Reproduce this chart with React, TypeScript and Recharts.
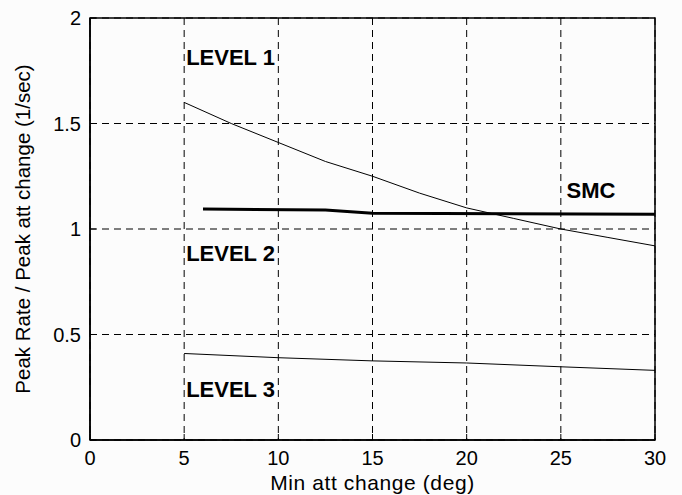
import { LineChart, Line, XAxis, YAxis, CartesianGrid, ReferenceArea, ReferenceDot, Label } from 'recharts';

const xTicks = [0, 5, 10, 15, 20, 25, 30];
const yTicks = [0, 0.5, 1, 1.5, 2];

// level 1 / level 2 boundary
const boundaryX = [5, 7.5, 10, 12.5, 15, 17.5, 20, 22.5, 25, 27.5, 30];
const boundaryY = [1.6, 1.5, 1.41, 1.32, 1.25, 1.17, 1.1, 1.05, 1.0, 0.96, 0.92];

// SMC
const smcX = [6, 12.5, 15, 30];
const smcY = [1.095, 1.09, 1.075, 1.07];

// level 2 / level 3 boundary
const lowerX = [5, 10, 15, 20, 25, 30];
const lowerY = [0.41, 0.39, 0.375, 0.365, 0.347, 0.33];

const zip = (xs: number[], ys: number[]) => xs.map((x, i) => ({ x, y: ys[i] }));

const font = '"Liberation Sans", Arial, sans-serif';
const tickFont = { fontFamily: font, fontSize: 20, fill: '#000' };
const levelFont = { fontFamily: font, fontSize: 22, fontWeight: 700, fill: '#000' };
const blank = () => '';

const tag = (x: number, y: number, text: string) => (
  <ReferenceDot x={x} y={y} r={0} fill="none" stroke="none" ifOverflow="visible">
    <Label value={text} position="right" offset={2} style={levelFont} />
  </ReferenceDot>
);

export default function App() {
  return (
    <div style={{ position: 'absolute', left: 0, top: 0, width: 682, height: 495, background: '#fcfcfc' }}>
      <LineChart width={682} height={495} margin={{ top: 18, right: 27, bottom: 0, left: 40 }}>
        <CartesianGrid stroke="#000" strokeDasharray="7 5" strokeWidth={1} />
        <XAxis
          type="number"
          dataKey="x"
          domain={[0, 30]}
          ticks={xTicks}
          allowDataOverflow
          height={55}
          tickSize={-6}
          tickMargin={17}
          tickLine={{ stroke: '#000' }}
          axisLine={{ stroke: '#000', strokeWidth: 1.5 }}
          tick={tickFont}
        >
          <Label value="Min att change (deg)" position="insideBottom" offset={5} style={{ ...tickFont, fontSize: 21, letterSpacing: 0.6 }} />
        </XAxis>
        <XAxis
          xAxisId="top"
          orientation="top"
          type="number"
          dataKey="x"
          domain={[0, 30]}
          ticks={xTicks}
          allowDataOverflow
          height={0}
          tickSize={-6}
          tickLine={{ stroke: '#000' }}
          axisLine={false}
          tickFormatter={blank}
        />
        <YAxis
          type="number"
          dataKey="y"
          domain={[0, 2]}
          ticks={yTicks}
          allowDataOverflow
          width={50}
          tickSize={-6}
          tickMargin={15}
          tickLine={{ stroke: '#000' }}
          axisLine={{ stroke: '#000', strokeWidth: 1.5 }}
          tick={tickFont}
        >
          <Label
            value="Peak Rate / Peak att change (1/sec)"
            angle={-90}
            position="center"
            dx={-42}
            style={{ ...tickFont, fontSize: 20.5, textAnchor: 'middle' }}
          />
        </YAxis>
        <YAxis
          yAxisId="right"
          orientation="right"
          type="number"
          domain={[0, 2]}
          ticks={yTicks}
          allowDataOverflow
          width={0}
          tickSize={-6}
          tickLine={{ stroke: '#000' }}
          axisLine={false}
          tickFormatter={blank}
        />
        <ReferenceArea x1={0} x2={30} y1={0} y2={2} fill="none" stroke="#000" strokeWidth={1.5} ifOverflow="visible" />
        <Line data={zip(boundaryX, boundaryY)} dataKey="y" stroke="#000" strokeWidth={1} dot={false} isAnimationActive={false} />
        <Line data={zip(smcX, smcY)} dataKey="y" stroke="#000" strokeWidth={3} dot={false} isAnimationActive={false} />
        <Line data={zip(lowerX, lowerY)} dataKey="y" stroke="#000" strokeWidth={1} dot={false} isAnimationActive={false} />
        {tag(5, 1.815, 'LEVEL 1')}
        {tag(5, 0.886, 'LEVEL 2')}
        {tag(5, 0.242, 'LEVEL 3')}
        {tag(25.2, 1.185, 'SMC')}
      </LineChart>
    </div>
  );
}
